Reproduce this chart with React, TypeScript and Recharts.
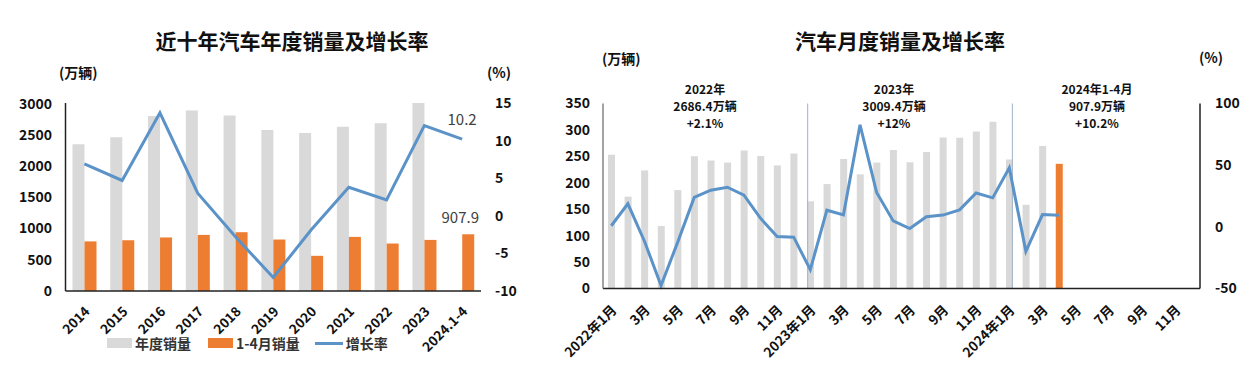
import React from 'react';
import { ComposedChart, Bar, Line, XAxis, YAxis, ReferenceLine, LabelList } from 'recharts';

// ---- 近十年汽车年度销量及增长率 ----
const years = ['2014', '2015', '2016', '2017', '2018', '2019', '2020', '2021', '2022', '2023', '2024.1-4'];
const annualSales = [2349.2, 2459.8, 2802.8, 2887.9, 2808.1, 2576.9, 2531.1, 2627.5, 2686.4, 3009.4, null];
const janAprSales = [794, 813, 857, 898, 941, 824, 563, 866, 760, 818, 907.9];
const annualGrowth = [6.9, 4.7, 13.7, 3.0, -2.8, -8.2, -1.9, 3.8, 2.1, 12.0, 10.2];
const salesTicks = [0, 500, 1000, 1500, 2000, 2500, 3000];
const growthTicks = [-10, -5, 0, 5, 10, 15];

// ---- 汽车月度销量及增长率 ----
const months = [
  '2022年1月', '2月', '3月', '4月', '5月', '6月', '7月', '8月', '9月', '10月', '11月', '12月',
  '2023年1月', '2月', '3月', '4月', '5月', '6月', '7月', '8月', '9月', '10月', '11月', '12月',
  '2024年1月', '2月', '3月', '4月', '5月', '6月', '7月', '8月', '9月', '10月', '11月', '12月',
];
const monthlySales = [
  253.1, 173.7, 223.4, 118.1, 186.2, 250.2, 242.0, 238.3, 261.0, 250.6, 232.9, 255.6,
  164.9, 197.6, 245.1, 215.9, 238.2, 262.2, 238.7, 258.2, 285.8, 285.3, 297.0, 315.6,
  243.9, 158.4, 269.4, 235.9,
];
const monthlyGrowth = [
  0.9, 18.7, -11.7, -47.6, -12.6, 23.8, 29.7, 32.1, 25.7, 6.9, -7.9, -8.4,
  -34.8, 13.5, 9.7, 82.7, 27.9, 4.8, -1.4, 8.2, 9.5, 13.8, 27.4, 23.5,
  47.9, -19.9, 9.9, 9.3,
];
const highlightIndex = 27; // 2024年4月 shown in orange
const monthSalesTicks = [0, 50, 100, 150, 200, 250, 300, 350];
const monthGrowthTicks = [-50, 0, 50, 100];
const yearStarts = ['2023年1月', '2024年1月'];
const yearNotes = [
  ['2022年', '2686.4万辆', '+2.1%'],
  ['2023年', '3009.4万辆', '+12%'],
  ['2024年1-4月', '907.9万辆', '+10.2%'],
];

const FONT = '"Noto Sans CJK SC", "Noto Sans", sans-serif';
const GRAY = '#D9D9D9';
const ORANGE = '#ED7D31';
const BLUE = '#5B93C8';
const INK = '#111';

const yearRows = years.map((name, i) => ({
  name,
  annual: annualSales[i],
  janApr: janAprSales[i],
  growth: annualGrowth[i],
}));

const monthRows = months.map((name, i) => ({
  name,
  sales: i < monthlySales.length && i !== highlightIndex ? monthlySales[i] : null,
  latest: i === highlightIndex ? monthlySales[i] : null,
  growth: i < monthlyGrowth.length ? monthlyGrowth[i] : null,
}));

const axisTick = { fill: INK, fontSize: 14, fontWeight: 700, fontFamily: FONT };

const AngledTick = (props: any) => {
  const { x, y, payload } = props;
  return (
    <text
      x={x}
      y={y}
      dy={9}
      textAnchor="end"
      transform={`rotate(-45 ${x} ${y})`}
      fill={INK}
      fontSize={13.5}
      fontWeight={700}
      fontFamily={FONT}
    >
      {payload.value}
    </text>
  );
};

const lastGrowthLabel = (props: any) => {
  const { x, y, index, value } = props;
  if (index !== years.length - 1) return null;
  return (
    <text x={x} y={y - 14} textAnchor="middle" fontSize={15} fill="#404040" fontFamily={FONT}>
      {value}
    </text>
  );
};

const lastBarLabel = (props: any) => {
  const { x, y, width, index, value } = props;
  if (index !== years.length - 1) return null;
  return (
    <text x={x + width / 2 - 8} y={y - 11} textAnchor="middle" fontSize={15} fill="#404040" fontFamily={FONT}>
      {value}
    </text>
  );
};

const abs = (left: number, top: number, extra: React.CSSProperties = {}): React.CSSProperties => ({
  position: 'absolute',
  left,
  top,
  fontFamily: FONT,
  color: INK,
  whiteSpace: 'nowrap',
  ...extra,
});

function LegendSwatch({ color, line }: { color: string; line?: boolean }) {
  return (
    <span
      style={{
        display: 'inline-block',
        width: line ? 28 : 25,
        height: line ? 3 : 10,
        background: color,
        marginRight: 3,
        verticalAlign: 'middle',
      }}
    />
  );
}

export default function App() {
  return (
    <div style={{ position: 'absolute', left: 0, top: 0, width: 1246, height: 378, background: '#fff', overflow: 'hidden' }}>
      {/* left chart */}
      <div style={abs(0, 25, { width: 584, textAlign: 'center', fontSize: 21, fontWeight: 700 })}>近十年汽车年度销量及增长率</div>
      <div style={abs(59, 62, { fontSize: 14, fontWeight: 700 })}>(万辆)</div>
      <div style={abs(487, 62, { fontSize: 14, fontWeight: 700 })}>(%)</div>
      <div style={{ position: 'absolute', left: 0, top: 0 }}>
        <ComposedChart
          width={540}
          height={378}
          data={yearRows}
          margin={{ top: 103, right: 14, bottom: 27, left: 15.5 }}
          barGap={0}
        >
          <XAxis
            dataKey="name"
            interval={0}
            tickLine={false}
            axisLine={{ stroke: '#222', strokeWidth: 1.5 }}
            tick={<AngledTick />}
            tickMargin={9}
            height={60}
          />
          <YAxis
            yAxisId="left"
            domain={[0, 3000]}
            ticks={salesTicks}
            tickLine={false}
            axisLine={{ stroke: '#222', strokeWidth: 1.5 }}
            tick={axisTick}
            tickMargin={7.5}
            width={50}
          />
          <YAxis
            yAxisId="right"
            orientation="right"
            domain={[-10, 15]}
            ticks={growthTicks}
            tickLine={false}
            axisLine={false}
            tick={{ ...axisTick, textAnchor: 'start' }}
            tickMargin={8}
            width={45}
          />
          <Bar yAxisId="left" dataKey="annual" name="年度销量" fill={GRAY} barSize={12} isAnimationActive={false} />
          <Bar yAxisId="left" dataKey="janApr" name="1-4月销量" fill={ORANGE} barSize={12} isAnimationActive={false}>
            <LabelList dataKey="janApr" content={lastBarLabel} />
          </Bar>
          <Line
            yAxisId="right"
            dataKey="growth"
            name="增长率"
            stroke={BLUE}
            strokeWidth={3}
            dot={false}
            isAnimationActive={false}
          >
            <LabelList dataKey="growth" content={lastGrowthLabel} />
          </Line>
        </ComposedChart>
      </div>
      <div style={abs(107, 333, { fontSize: 14, fontWeight: 600, color: '#333', display: 'flex', alignItems: 'center' })}>
        <LegendSwatch color={GRAY} />
        <span style={{ marginRight: 17 }}>年度销量</span>
        <LegendSwatch color={ORANGE} />
        <span style={{ marginRight: 15 }}>1-4月销量</span>
        <LegendSwatch color={BLUE} line />
        <span>增长率</span>
      </div>

      {/* right chart */}
      <div style={abs(600, 25, { width: 600, textAlign: 'center', fontSize: 21, fontWeight: 700 })}>汽车月度销量及增长率</div>
      <div style={abs(602, 48, { fontSize: 14, fontWeight: 700 })}>(万辆)</div>
      <div style={abs(1199, 47, { fontSize: 14, fontWeight: 700 })}>(%)</div>
      {yearNotes.map((lines, i) => (
        <div
          key={lines[0]}
          style={abs([705, 894, 1097][i] - 60, 80, {
            width: 120,
            textAlign: 'center',
            fontSize: 12,
            fontWeight: 700,
            lineHeight: '17px',
          })}
        >
          {lines.map((t) => (
            <div key={t}>{t}</div>
          ))}
        </div>
      ))}
      <div style={{ position: 'absolute', left: 550, top: 0 }}>
        <ComposedChart
          width={696}
          height={378}
          data={monthRows}
          margin={{ top: 103.5, right: 6, bottom: 29.5, left: 13 }}
        >
          <XAxis
            dataKey="name"
            interval={1}
            tickLine={false}
            axisLine={{ stroke: '#222', strokeWidth: 1.5 }}
            tick={<AngledTick />}
            tickMargin={10}
            height={60}
          />
          <XAxis xAxisId="pos" type="number" domain={[0, months.length]} allowDataOverflow hide />
          <YAxis
            yAxisId="left"
            domain={[0, 350]}
            ticks={monthSalesTicks}
            tickLine={false}
            axisLine={{ stroke: '#666', strokeWidth: 1.2 }}
            tick={axisTick}
            tickMargin={7}
            width={40}
          />
          <YAxis
            yAxisId="right"
            orientation="right"
            domain={[-50, 100]}
            ticks={monthGrowthTicks}
            tickLine={false}
            axisLine={{ stroke: '#222', strokeWidth: 1.5 }}
            tick={{ ...axisTick, textAnchor: 'start' }}
            tickMargin={9}
            width={40}
          />
          {yearStarts.map((m) => (
            <ReferenceLine
              key={m}
              xAxisId="pos"
              yAxisId="left"
              x={months.indexOf(m)}
              stroke="#9FB4C8"
              strokeWidth={1}
              ifOverflow="extendDomain"
            />
          ))}
          <Bar yAxisId="left" dataKey="sales" stackId="m" fill={GRAY} barSize={7} isAnimationActive={false} />
          <Bar yAxisId="left" dataKey="latest" stackId="m" fill={ORANGE} barSize={7} isAnimationActive={false} />
          <Line
            yAxisId="right"
            dataKey="growth"
            stroke={BLUE}
            strokeWidth={3}
            dot={false}
            isAnimationActive={false}
          />
        </ComposedChart>
      </div>
    </div>
  );
}
